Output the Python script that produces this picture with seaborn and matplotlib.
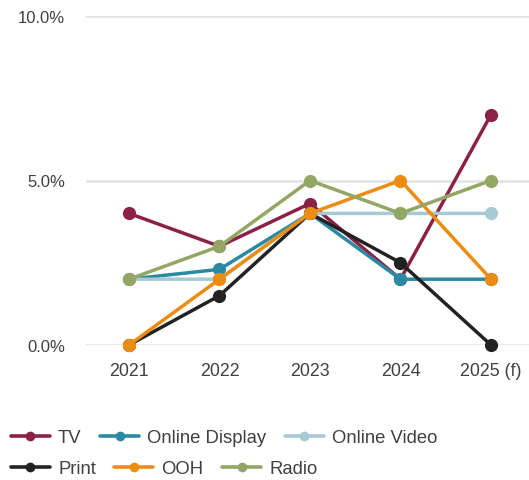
import matplotlib
matplotlib.use("Agg")
import matplotlib.pyplot as plt
from matplotlib.lines import Line2D
import seaborn as sns
import pandas as pd

years = ["2021", "2022", "2023", "2024", "2025 (f)"]
channels = ["TV", "Online Display", "Online Video", "Print", "OOH", "Radio"]
tv = [4.0, 3.0, 4.3, 2.0, 7.0]
online_display = [2.0, 2.3, 4.0, 2.0, 2.0]
online_video = [2.0, 2.0, 4.0, 4.0, 4.0]
print_media = [0.0, 1.5, 4.0, 2.5, 0.0]
ooh = [0.0, 2.0, 4.0, 5.0, 2.0]
radio = [2.0, 3.0, 5.0, 4.0, 5.0]
y_ticks = [0, 5, 10]

colors = ["#8c2148", "#2a8aa3", "#a7c9d3", "#222222", "#ec8c12", "#93a664"]
series = [tv, online_display, online_video, print_media, ooh, radio]

rows = []
for name, vals in zip(channels, series):
    for i, v in enumerate(vals):
        rows.append({"pos": i, "value": v, "channel": name})
df = pd.DataFrame(rows)

sns.set_theme(style="white")
plt.rcParams["font.family"] = ["Liberation Sans", "DejaVu Sans"]
text_color = "#443f3f"

fig = plt.figure(figsize=(5.29, 4.81), dpi=100)
ax = fig.add_axes([86 / 529, 1 - 346 / 481, 443 / 529, 329 / 481])

sns.lineplot(data=df, x="pos", y="value", hue="channel", hue_order=channels,
             palette=colors, marker="o", markersize=9.5, markeredgewidth=0,
             linewidth=2.5, legend=False, ax=ax)
for ln in ax.lines:
    ln.set_clip_on(False)

ax.set_xlim(-0.475, 4.42)
ax.set_ylim(0, 10)
ax.set_xticks(range(len(years)))
ax.set_xticklabels(years)
ax.set_yticks(y_ticks)
ax.set_yticklabels([f"{t:.1f}%" for t in y_ticks])
ax.set_xlabel("")
ax.set_ylabel("")
ax.tick_params(axis="both", length=0, colors=text_color)
ax.tick_params(axis="x", pad=12, labelsize=12.8)
ax.tick_params(axis="y", pad=15, labelsize=12)
ax.grid(axis="y", color="#e2e2e2", linewidth=1.8)
ax.grid(axis="x", visible=False)
ax.set_axisbelow(True)
for s in ax.spines.values():
    s.set_visible(False)

def handle(c):
    return Line2D([], [], color=c, linewidth=2.6, marker="o", markersize=7,
                  markeredgewidth=0)

legend_kw = dict(frameon=False, ncol=3, handlelength=2.1, handletextpad=0.45,
                 columnspacing=1.0, fontsize=13.3, labelcolor=text_color,
                 borderaxespad=0, borderpad=0, loc="center left")
leg1 = fig.legend([handle(c) for c in colors[:3]], channels[:3],
                  bbox_to_anchor=(11 / 529, 1 - 439 / 481), **legend_kw)
leg2 = fig.legend([handle(c) for c in colors[3:]], channels[3:],
                  bbox_to_anchor=(11 / 529, 1 - 470 / 481), **legend_kw)

fig.savefig("out.png", dpi=100)
